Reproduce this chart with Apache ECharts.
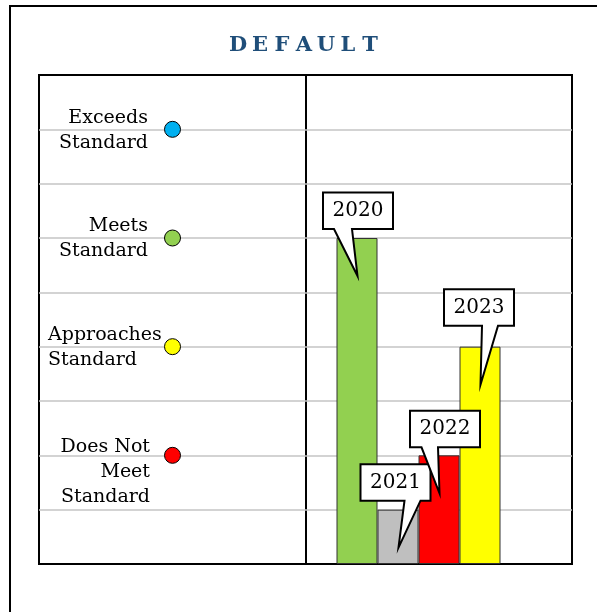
<!DOCTYPE html>
<html>
<head>
<meta charset="utf-8">
<script src="https://cdn.jsdelivr.net/npm/echarts@6/dist/echarts.min.js"></script>
<style>
html, body { margin: 0; padding: 0; background: #fff; }
#chart { width: 597px; height: 612px; }
</style>
</head>
<body>
<div id="chart"></div>
<script>
// data
const chartTitle = "DEFAULT"
const levelNames = ["Does Not\nMeet\nStandard", "Approaches\nStandard", "Meets\nStandard", "Exceeds\nStandard"]
const levelValues = [2, 4, 6, 8]
const levelColors = ["#ff0000", "#ffff00", "#92d050", "#00b0f0"]
const years = ["2020", "2021", "2022", "2023"]
const yearValues = [6, 1, 2, 4]
const yearColors = ["#92d050", "#bfbfbf", "#ff0000", "#ffff00"]
const yMax = 9

// layout only: label placement next to each dot, callout placement above each bar
const levelLabelPos = [
  { position: [-14, 25], align: "right" },
  { position: [-116, 9], align: "left" },
  { position: [-16, 9], align: "right" },
  { position: [-16, 10], align: "right" }
]
const calloutLayout = [
  { dx: 1, dy: -9, base: [-24, -6] },
  { dx: -2.5, dy: -9, base: [9, 25] },
  { dx: 6, dy: -8, base: [-23.5, -7] },
  { dx: -1, dy: -21, base: [3, 19] }
]

const serif = "DejaVu Serif"
const barW = 41

let myChart = echarts.init(document.getElementById("chart"))

const hiddenY = (grid, split) => ({
  type: "value",
  gridIndex: grid,
  min: 0,
  max: yMax,
  interval: 1,
  axisLine: { show: false },
  axisTick: { show: false },
  axisLabel: { show: false },
  splitLine: {
    show: split,
    showMinLine: false,
    showMaxLine: false,
    lineStyle: { color: "#c4c4c4", width: 1.5 }
  }
})

const barSeries = years.map((y, i) => ({
  name: y,
  type: "bar",
  xAxisIndex: 2,
  yAxisIndex: 2,
  barWidth: barW,
  barGap: "0%",
  data: [yearValues[i]],
  itemStyle: {
    color: yearColors[i],
    borderColor: "#333",
    borderWidth: 1
  },
  z: 3
}))

myChart.setOption({
  animation: false,
  title: {
    text: chartTitle.split("").map(c => "{l|" + c + "}").join(""),
    left: 222,
    top: 30,
    textStyle: {
      rich: {
        l: {
          width: 22,
          align: "center",
          fontSize: 21,
          fontWeight: "bold",
          fontFamily: serif,
          color: "#1f4e79"
        }
      }
    }
  },
  graphic: [{
    type: "rect",
    silent: true,
    shape: { x: 10, y: 6, width: 700, height: 700 },
    style: { fill: "none", stroke: "#000", lineWidth: 2 }
  }],
  grid: [
    { left: 39, top: 75, width: 267, height: 489, show: true, borderColor: "#000", borderWidth: 2 },
    { left: 306, top: 75, width: 266, height: 489, show: true, borderColor: "#000", borderWidth: 2 },
    { left: 285.5, top: 75, width: 266, height: 489 }
  ],
  xAxis: [
    { type: "value", gridIndex: 0, min: 0, max: 1, show: false },
    { type: "value", gridIndex: 1, min: 0, max: 1, show: false },
    { type: "category", gridIndex: 2, data: ["Default"], show: false }
  ],
  yAxis: [hiddenY(0, true), hiddenY(1, true), hiddenY(2, false)],
  series: [
    {
      type: "scatter",
      xAxisIndex: 0,
      yAxisIndex: 0,
      symbolSize: 16,
      data: levelValues.map((v, i) => ({
        name: levelNames[i],
        value: [0.5, v],
        itemStyle: { color: levelColors[i], borderColor: "#000", borderWidth: 1, opacity: 1 },
        label: {
          show: true,
          position: levelLabelPos[i].position,
          align: levelLabelPos[i].align,
          verticalAlign: "middle",
          formatter: "{b}",
          fontFamily: serif,
          fontSize: 19,
          lineHeight: 25,
          color: "#000"
        }
      }))
    },
    ...barSeries,
    {
      type: "custom",
      xAxisIndex: 2,
      yAxisIndex: 2,
      clip: false,
      z: 10,
      data: yearValues.map((v, i) => [0, v, i]),
      renderItem: function (params, api) {
        let idx = api.value(2)
        let top = api.coord([0, api.value(1)])
        let lay = calloutLayout[idx]
        let bx = top[0] + (idx - 1.5) * barW
        let by = top[1]
        let cx = bx + lay.dx
        let bottom = by + lay.dy
        let h = 36.5, w = 70
        let tip = [bx + 0.5, by + 38]
        let pts = [
          [cx - w / 2, bottom - h],
          [cx + w / 2, bottom - h],
          [cx + w / 2, bottom],
          [cx + lay.base[1], bottom],
          tip,
          [cx + lay.base[0], bottom],
          [cx - w / 2, bottom]
        ]
        return {
          type: "group",
          children: [
            {
              type: "polygon",
              shape: { points: pts },
              style: { fill: "#fff", stroke: "#000", lineWidth: 2 }
            },
            {
              type: "text",
              x: cx,
              y: bottom - h / 2,
              style: {
                text: years[idx],
                fill: "#000",
                font: "20px '" + serif + "'",
                align: "center",
                verticalAlign: "middle"
              }
            }
          ]
        }
      }
    }
  ]
})
</script>
</body>
</html>
